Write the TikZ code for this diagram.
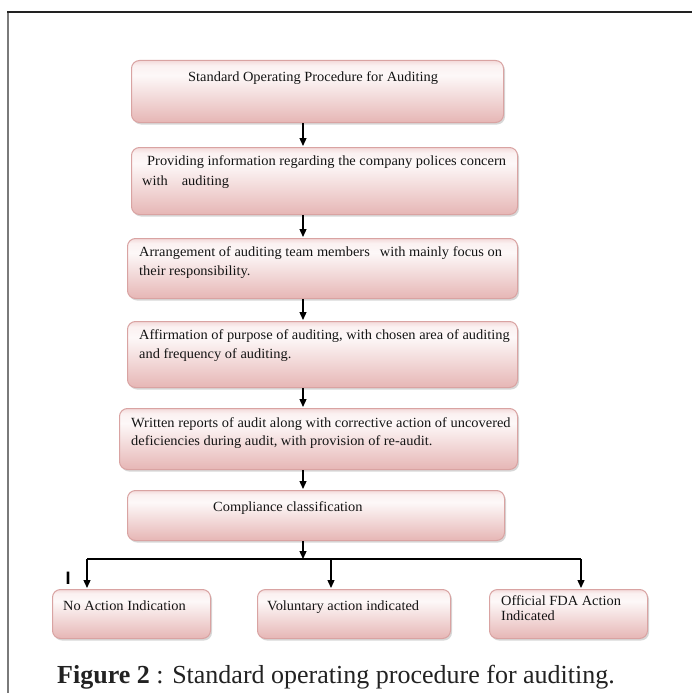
\documentclass[tikz,border=0pt]{standalone}
\usepackage{fontspec}
\setmainfont{Liberation Serif}
\newfontfamily\boxfont[FakeStretch=1.03]{Liberation Serif}
\newfontfamily\barfont{Liberation Sans}
\usetikzlibrary{arrows.meta,shadows}

\definecolor{boxedge}{HTML}{D9A3A2}
\definecolor{shadetop}{HTML}{F3DADA}
\definecolor{shadelite}{HTML}{FBF1F1}
\definecolor{shademid}{HTML}{FDF8F8}
\definecolor{shadebot}{HTML}{E6B6B5}
\definecolor{inkdark}{HTML}{141414}
\definecolor{framedark}{HTML}{222222}
\definecolor{framegrey}{HTML}{7A7A7A}

% vertical fill of the process boxes: pink at the foot, near white just below the top
\pgfdeclareverticalshading{boxshade}{100bp}{%
  color(0bp)=(shadebot); color(25bp)=(shadebot);
  color(63bp)=(shademid); color(71bp)=(shadelite);
  color(75bp)=(shadetop); color(100bp)=(shadetop)}

\tikzset{
  box/.style={draw=boxedge, line width=1bp, rounded corners=8bp,
    shading=boxshade, inner sep=0pt, anchor=north west,
    drop shadow={shadow xshift=1.5bp, shadow yshift=-2bp,
      opacity=0.22, fill=black!70}},
  txt/.style={inner sep=0pt, anchor=base west, text=inkdark,
    font=\boxfont\fontsize{14bp}{19bp}\selectfont},
  link/.style={draw=black, line width=1.3bp},
  arr/.style={link, -{Triangle[length=8bp,width=7bp]}, shorten >=1bp},
}

\begin{document}
\begin{tikzpicture}[x=1bp, y=-1bp]
  \useasboundingbox (0,0) rectangle (692,693);
  \fill[white] (0,0) rectangle (692,693);

  % page frame
  \draw[framegrey, line width=1.5bp] (8,12) -- (8,693);
  \draw[framedark, line width=1.5bp] (7.25,12) -- (692,12);

  % process boxes
  \node[box, minimum width=372bp, minimum height=62bp] (b1) at (131,60) {};
  \node[box, minimum width=386bp, minimum height=67bp] (b2) at (131,147) {};
  \node[box, minimum width=390bp, minimum height=60bp] (b3) at (127,238) {};
  \node[box, minimum width=390bp, minimum height=66bp] (b4) at (127,321) {};
  \node[box, minimum width=398bp, minimum height=61bp] (b5) at (119,408) {};
  \node[box, minimum width=377bp, minimum height=50bp] (b6) at (127,490) {};
  \node[box, minimum width=158bp, minimum height=49bp] (b7) at (52,589) {};
  \node[box, minimum width=193bp, minimum height=49bp] (b8) at (257,589) {};
  \node[box, minimum width=158bp, minimum height=49bp] (b9) at (489,589) {};

  % box texts
  \node[txt] (t1) at (188,82) {Standard Operating Procedure for Auditing};
  \node[txt] (t2a) at (147,165) {Providing information regarding the company polices concern};
  \node[txt] (t2b) at (142,185) {with\hspace{14bp}auditing};
  \node[txt] (t3a) at (139,256) {Arrangement of auditing team members\hspace{10bp}with mainly focus on};
  \node[txt] (t3b) at (139,275) {their responsibility.};
  \node[txt] (t4a) at (139,339) {Affirmation of purpose of auditing, with chosen area of auditing};
  \node[txt] (t4b) at (139,358) {and frequency of auditing.};
  \node[txt] (t5a) at (131,427) {Written reports of audit along with corrective action of uncovered};
  \node[txt] (t5b) at (131,445) {deficiencies during audit, with provision of re-audit.};
  \node[txt] (t6) at (213,511) {Compliance classification};
  \node[txt] (t7) at (63,610) {No Action Indication};
  \node[txt] (t8) at (267,610) {Voluntary action indicated};
  \node[txt] (t9a) at (501,605) {Official FDA Action};
  \node[txt] (t9b) at (501,620) {Indicated};

  % connectors along the main column
  \coordinate (spine) at (303,0);
  \draw[arr] (b1.south -| spine) -- (b2.north -| spine);
  \draw[arr] (b2.south -| spine) -- (b3.north -| spine);
  \draw[arr] (b3.south -| spine) -- (b4.north -| spine);
  \draw[arr] (b4.south -| spine) -- (b5.north -| spine);
  \draw[arr] (b5.south -| spine) -- (b6.north -| spine);

  % branching into the three outcomes
  \coordinate (split) at (303,559);
  \coordinate (d7) at (87,559);
  \coordinate (d8) at (331,559);
  \coordinate (d9) at (581,559);
  \draw[link] (d7) -- (d9);
  \draw[arr, shorten >=0pt] (b6.south -| spine) -- (split);
  \draw[arr] (d7) -- (b7.north -| d7);
  \draw[arr] (d8) -- (b8.north -| d8);
  \draw[arr] (d9) -- (b9.north -| d9);

  \node[inner sep=0pt, anchor=base, font=\barfont\bfseries\fontsize{18bp}{18bp}\selectfont]
    (mark) at (68,584) {I};

  % caption
  \node[inner sep=0pt, anchor=base west, text=framedark,
    font=\fontsize{26bp}{30bp}\selectfont] (cap) at (57,683)
    {\textbf{Figure 2} : Standard operating procedure for auditing.};
\end{tikzpicture}
\end{document}
